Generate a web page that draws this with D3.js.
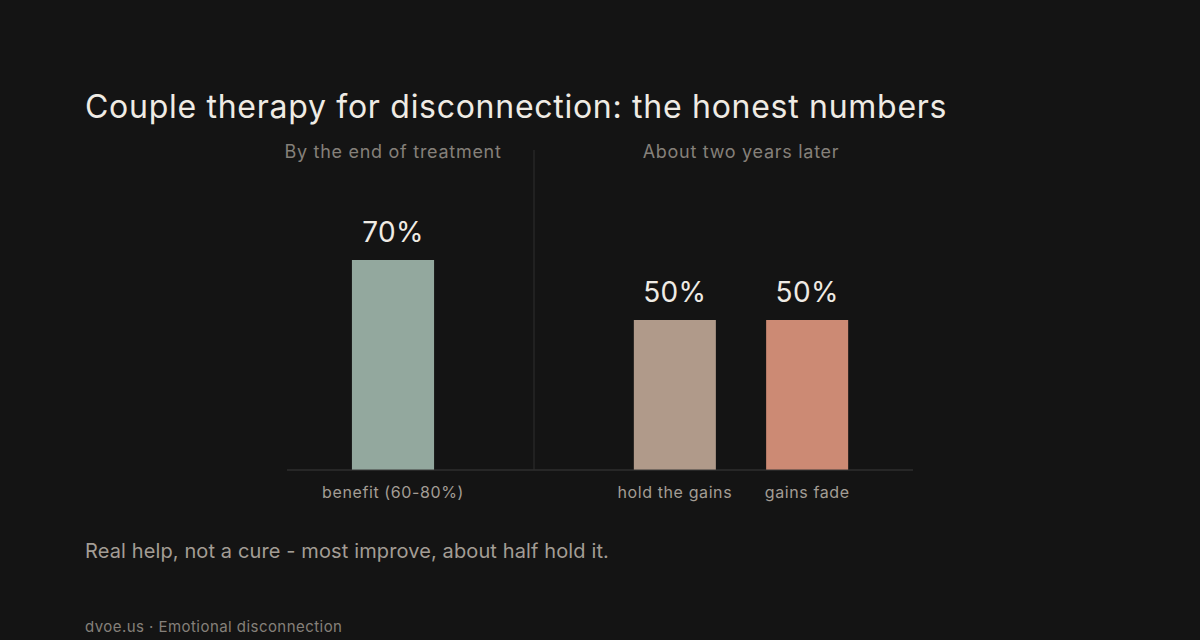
<!DOCTYPE html>
<html>
<head>
<meta charset="utf-8">
<script src="https://cdn.jsdelivr.net/npm/d3@7"></script>
<style>
  body { margin: 0; background: #141414; }
  text { font-family: Inter, "Noto Sans", sans-serif; }
</style>
</head>
<body>
<div id="container"></div>
<script>
/* CONSTANTS AND GLOBALS */
const width = 1200,
  height = 640;

/* DATA */
const panelTitles = ["By the end of treatment", "About two years later"];
const leftCategories = ["benefit (60-80%)"];
const leftValues = [70];
const rightCategories = ["hold the gains", "gains fade"];
const rightValues = [50, 50];
const barColors = ["#93a89e", "#b09a8a", "#cc8a74"];

const title = "Couple therapy for disconnection: the honest numbers";
const note = "Real help, not a cure - most improve, about half hold it.";
const footer = "dvoe.us \u00b7 Emotional disconnection";

// SCALES
const yScale = d3.scaleLinear()
  .domain([0, 100])
  .range([470, 170]);

const xLeft = d3.scaleBand()
  .domain(leftCategories)
  .range([287, 499])
  .paddingInner(0.38)
  .paddingOuter(0.49);

const xRight = d3.scaleBand()
  .domain(rightCategories)
  .range([569, 913])
  .paddingInner(0.38)
  .paddingOuter(0.49);

// CREATE SVG ELEMENT
const svg = d3.select("#container")
  .append("svg")
  .attr("width", width)
  .attr("height", height);

svg.append("rect")
  .attr("width", width)
  .attr("height", height)
  .attr("fill", "#141414");

// TITLE
svg.append("text")
  .attr("x", 85)
  .attr("y", 118)
  .attr("fill", "#efebe4")
  .attr("font-size", 32)
  .attr("letter-spacing", 0.72)
  .text(title);

// PANELS
const panels = [
  { scale: xLeft, cats: leftCategories, vals: leftValues, colors: barColors.slice(0, 1) },
  { scale: xRight, cats: rightCategories, vals: rightValues, colors: barColors.slice(1) }
];

panels.forEach((p, i) => {
  const [r0, r1] = p.scale.range();
  svg.append("text")
    .attr("x", (r0 + r1) / 2)
    .attr("y", 158)
    .attr("text-anchor", "middle")
    .attr("fill", "#85807a")
    .attr("font-size", 18)
    .attr("letter-spacing", 0.72)
    .text(panelTitles[i]);

  const rows = p.cats.map((c, j) => ({ cat: c, value: p.vals[j], color: p.colors[j] }));

  // DRAW BARS
  svg.selectAll(null)
    .data(rows)
    .join("rect")
    .attr("x", d => p.scale(d.cat))
    .attr("y", d => yScale(d.value))
    .attr("width", p.scale.bandwidth())
    .attr("height", d => yScale(0) - yScale(d.value))
    .attr("fill", d => d.color);

  // VALUE LABELS
  svg.selectAll(null)
    .data(rows)
    .join("text")
    .attr("x", d => p.scale(d.cat) + p.scale.bandwidth() / 2)
    .attr("y", d => yScale(d.value) - 18)
    .attr("text-anchor", "middle")
    .attr("fill", "#efebe4")
    .attr("font-size", 28)
    .attr("letter-spacing", 0.3)
    .text(d => d.value + "%");

  // CATEGORY LABELS (axis)
  const axis = d3.axisBottom(p.scale).tickSize(0).tickPadding(17);
  const g = svg.append("g")
    .attr("transform", `translate(0, ${yScale(0)})`)
    .call(axis);
  g.select(".domain").remove();
  g.selectAll("text")
    .attr("fill", "#a39d95")
    .attr("font-size", 16)
    .attr("letter-spacing", 0.6)
    .attr("font-family", "Inter, 'Noto Sans', sans-serif");
});

// BASELINE
svg.append("line")
  .attr("x1", 287)
  .attr("x2", 913)
  .attr("y1", yScale(0))
  .attr("y2", yScale(0))
  .attr("stroke", "#3a3a3a")
  .attr("stroke-width", 1);

// DIVIDER
svg.append("line")
  .attr("x1", 534)
  .attr("x2", 534)
  .attr("y1", 150)
  .attr("y2", yScale(0))
  .attr("stroke", "#2e2e2e")
  .attr("stroke-width", 1);

// NOTE AND FOOTER
svg.append("text")
  .attr("x", 85)
  .attr("y", 558)
  .attr("fill", "#a39d95")
  .attr("font-size", 20)
  .attr("letter-spacing", 0.12)
  .text(note);

svg.append("text")
  .attr("x", 85)
  .attr("y", 632)
  .attr("fill", "#85807a")
  .attr("font-size", 15)
  .attr("letter-spacing", 0.45)
  .text(footer);
</script>
</body>
</html>
